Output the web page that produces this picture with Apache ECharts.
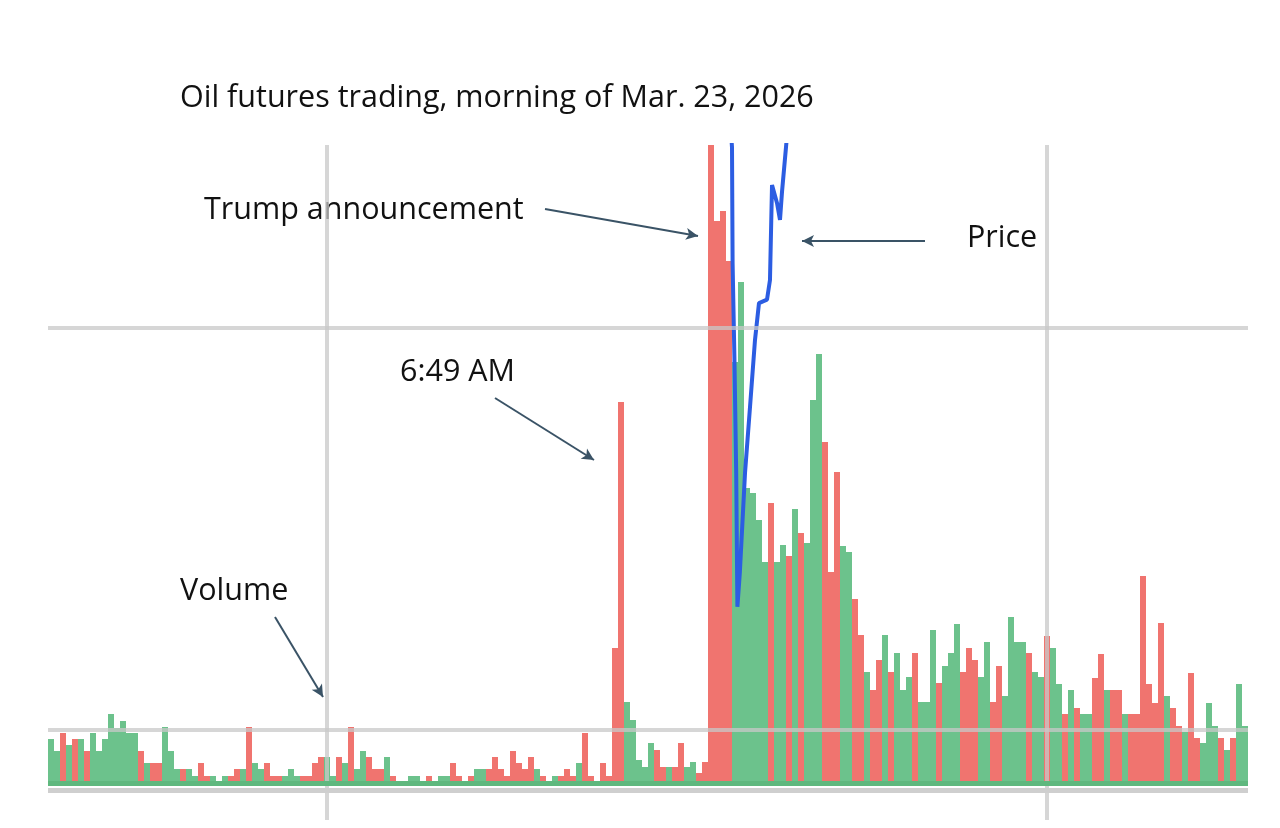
<!DOCTYPE html>
<html>
<head>
<meta charset="utf-8">
<title>Oil futures trading</title>
<script src="https://cdn.jsdelivr.net/npm/echarts@6/dist/echarts.min.js"></script>
<style>
  html, body { margin: 0; padding: 0; background: #fff; }
  #main { width: 1280px; height: 828px; }
</style>
</head>
<body>
<div id="main"></div>
<script>
// one bar per minute, starting 5:14 AM
var startHour = 5;
var startMinute = 14;
var barCount = 200;

// volume per minute
var volume = [
  47, 35, 53, 41, 47, 47, 35, 53, 35, 47, 72, 58, 65, 53, 53, 35, 23, 23, 23, 59,
  35, 17, 17, 17, 10, 23, 10, 10, 5, 10, 10, 17, 17, 59, 23, 17, 23, 10, 10, 10,
  17, 10, 10, 10, 23, 29, 29, 10, 29, 23, 59,
  17, 35, 29, 17, 17, 29, 10, 5, 5, 10, 10, 5, 10, 5, 10, 10, 23, 10, 5, 10,
  17, 17, 17, 29, 17, 10, 35, 23, 17, 29, 17, 10, 5, 10, 10, 17, 10, 23, 53, 10,
  5, 23, 10, 138, 384,
  84, 66, 26, 19, 43, 36, 19, 19, 19, 43, 19, 24, 13, 24,
  700, 565, 575, 525,
  424, 504, 298, 293, 266, 224, 283, 224, 241, 230, 277, 253, 243, 386, 432, 344,
  214, 314, 240, 234, 187, 151, 114, 96, 126, 151, 114, 133, 96, 109, 133, 84,
  84, 156, 103, 120, 133, 162, 114, 138, 126, 109, 144, 84, 120, 90, 169, 144,
  144, 133, 114, 109, 150, 138, 102, 72, 96, 78, 72, 72, 108, 132, 96, 96,
  96, 72, 72, 72, 210, 102, 83, 163, 90, 78, 60, 54, 113, 48, 43, 83, 60, 48,
  36, 48, 102, 60
];

// g = price up in that minute, r = price down
var side = (
  'ggrgrgrggggggggrgrrgggrggrrgrgrrgrggrrrgggrrrrggrgrg'.slice(0, 51) +
  'ggrrrgrrrggrrgggrrgrggrrrrrrrrgrrgrrrgrrrrrrr' +
  'gggggrrgrrggrr' +
  'rrrr' +
  'ggggggrggrgrgggrrrggrrgrrgrgggrgggrgggrrrggrrggggrggrggrgrggrrgrrgrrrrrrgrrgrrgggrgrgg'
).split('');

// price line: minute position and price
var priceX = [113.2, 113.5, 113.6, 113.9, 114.2, 114.4, 114.8, 115.67, 116.5, 117.33,
  118.0, 119.33, 119.83, 120.17, 121.0, 121.5, 121.83, 122.5, 122.9];
var priceY = [100.44, 99.96, 97.90, 96.23, 94.17, 91.79, 92.39, 94.17, 95.34, 96.53,
  97.19, 97.25, 97.60, 99.29, 98.97, 98.67, 99.16, 99.96, 100.44];

// minute labels
var minutes = [];
for (var i = 0; i < barCount; i++) {
  var t = startHour * 60 + startMinute + i;
  var mm = t % 60;
  minutes.push(Math.floor(t / 60) + ':' + (mm < 10 ? '0' + mm : mm));
}

var priceData = priceX.map(function (x, k) { return [x, priceY[k]]; });

var chart = echarts.init(document.getElementById('main'), null, { renderer: 'canvas' });

var textFont = '30.5px "Open Sans", "Noto Sans", sans-serif';
var arrowColor = '#3a5366';
var gridColor = 'rgba(200, 200, 200, 0.75)';

// annotation text, left edge + vertical middle
function note(text, x, y) {
  return {
    type: 'text',
    x: x,
    y: y,
    style: { text: text, fill: '#111', font: textFont, textVerticalAlign: 'middle' }
  };
}

var option = {
  backgroundColor: '#fff',
  animation: false,
  grid: {
    left: 48,
    right: 32,
    top: 145,
    bottom: 8
  },
  xAxis: [{
    type: 'category',
    data: minutes,
    show: false
  }, {
    // for the price line, same span as the bars
    type: 'value',
    min: -0.5,
    max: barCount - 0.5,
    show: false
  }],
  yAxis: [{
    type: 'value',
    min: -34,
    max: 641,
    show: false
  }, {
    type: 'value',
    min: 88,
    max: 100,
    show: false
  }],
  graphic: [
    note('Oil futures trading, morning of Mar. 23, 2026', 180, 98),
    note('Trump announcement', 204, 210),
    note('Price', 967, 238),
    note('6:49 AM', 400, 372),
    note('Volume', 180, 591)
  ],
  series: [{
    name: 'Volume',
    type: 'bar',
    data: volume,
    barCategoryGap: '0%',
    clip: true,
    itemStyle: {
      color: function (p) {
        return side[p.dataIndex] === 'g' ? '#6cc28c' : '#f0746f';
      }
    },
    markLine: {
      silent: true,
      symbol: 'none',
      label: { show: false },
      data: [
        // grid lines
        { xAxis: '6:00', lineStyle: { color: gridColor, width: 4, type: 'solid' } },
        { xAxis: '8:00', lineStyle: { color: gridColor, width: 4, type: 'solid' } },
        { yAxis: 56, lineStyle: { color: gridColor, width: 4, type: 'solid' } },
        { yAxis: 458, lineStyle: { color: gridColor, width: 4, type: 'solid' } },
        // green strip on the base and grey base line
        { yAxis: 3, lineStyle: { color: '#5fb87e', width: 5, type: 'solid' } },
        { yAxis: -4, lineStyle: { color: '#cfcfcf', width: 5, type: 'solid' } }
      ]
    }
  }, {
    name: 'Price',
    type: 'line',
    xAxisIndex: 1,
    yAxisIndex: 1,
    data: priceData,
    showSymbol: false,
    symbol: 'none',
    clip: true,
    lineStyle: {
      color: '#2c5de2',
      width: 4
    },
    markLine: {
      silent: true,
      symbol: ['none', 'arrow'],
      symbolSize: [9, 12],
      label: { show: false },
      lineStyle: { color: arrowColor, width: 2, type: 'solid' },
      data: [
        [{ x: 545, y: 209 }, { x: 698, y: 236 }],
        [{ x: 925, y: 241 }, { x: 802, y: 241 }],
        [{ x: 495, y: 398 }, { x: 594, y: 460 }],
        [{ x: 275, y: 617 }, { x: 323, y: 697 }]
      ]
    }
  }]
};

chart.setOption(option);
</script>
</body>
</html>
